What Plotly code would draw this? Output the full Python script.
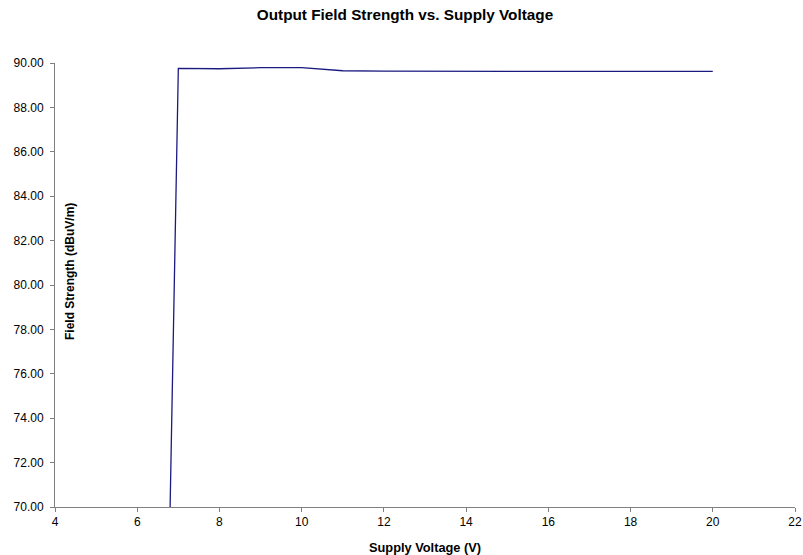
import plotly.graph_objects as go

voltage = [6.8, 7, 8, 9, 10, 11, 12, 13, 14, 15, 16, 17, 18, 19, 20]
field_strength = [70.0, 89.76, 89.74, 89.79, 89.79, 89.65, 89.63, 89.63, 89.63, 89.64, 89.64, 89.64, 89.64, 89.64, 89.62]

x_ticks = [4, 6, 8, 10, 12, 14, 16, 18, 20, 22]
y_ticks = [70, 72, 74, 76, 78, 80, 82, 84, 86, 88, 90]

font = "Liberation Sans, Arial, sans-serif"

W, H = 803, 555
ML, MR, MT, MB = 55, 8, 63, 48
PW, PH = W - ML - MR, H - MT - MB

fig = go.Figure()
fig.add_trace(go.Scatter(x=voltage, y=field_strength, mode="lines",
                         line=dict(color="#1a1a80", width=1.3), showlegend=False))

fig.update_layout(
    width=W, height=H,
    margin=dict(l=ML, r=MR, t=MT, b=MB, autoexpand=False),
    paper_bgcolor="white", plot_bgcolor="white",
    font=dict(family=font, size=12, color="black"),
    title=dict(text="<b>Output Field Strength vs. Supply Voltage</b>", x=405 / W, xanchor="center",
               xref="container", y=1 - 15 / H, yanchor="middle", font=dict(size=15.3, family=font)),
    xaxis=dict(range=[4, 22], tickvals=x_ticks, ticktext=[str(v) for v in x_ticks],
               showgrid=False, zeroline=False, showline=True, linecolor="#808080", linewidth=1,
               ticks="outside", ticklen=4, tickcolor="#808080", automargin=False),
    yaxis=dict(range=[70, 90], tickvals=y_ticks, ticktext=[f"{v:.2f}" for v in y_ticks],
               showgrid=False, zeroline=False, showline=True, linecolor="#808080", linewidth=1,
               ticks="outside", ticklen=4, tickcolor="#808080", ticklabelstandoff=4,
               automargin=False),
)

fig.add_annotation(text="<b>Supply Voltage (V)</b>",
                   xref="paper", yref="paper", x=0.5, y=-40 / PH,
                   xanchor="center", yanchor="middle", showarrow=False,
                   font=dict(size=12.8, family=font))

fig.add_annotation(text="<b>Field Strength (dBuV/m)</b>", textangle=-90,
                   xref="paper", yref="paper", x=15 / PW, y=(PH - (272 - MT)) / PH,
                   xanchor="center", yanchor="middle", showarrow=False,
                   font=dict(size=12, family=font))

fig.write_html("out.html", config={"displayModeBar": False},
               post_script="document.body.style.margin='0';document.body.style.overflow='hidden';")
